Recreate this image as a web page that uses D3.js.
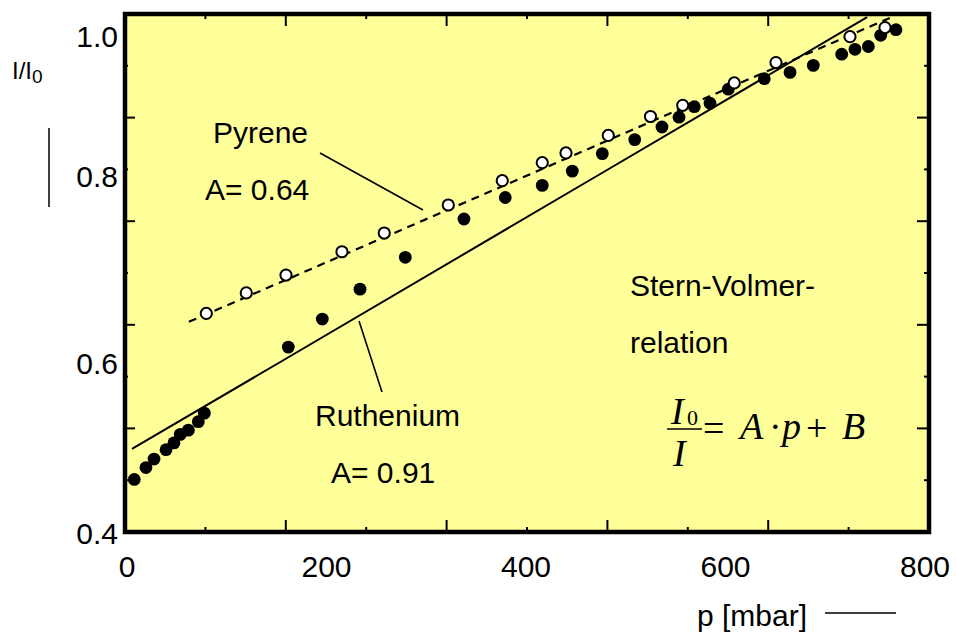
<!DOCTYPE html>
<html>
<head>
<meta charset="utf-8">
<script src="https://cdn.jsdelivr.net/npm/d3@7"></script>
<style>
  html, body { margin: 0; padding: 0; background: #ffffff; }
  svg { display: block; }
  text.sans { font-family: "Liberation Sans", Arial, Helvetica, sans-serif; fill: #000; }
  text.serif { font-family: "Liberation Serif", "Times New Roman", Times, serif; fill: #000; }
</style>
</head>
<body>
<svg id="chart" width="956" height="634"></svg>
<script>
// ---------- data ----------
const xTickValues = [0, 200, 400, 600, 800];
const xTickLabels = ["0", "200", "400", "600", "800"];
const yTickValues = [0.4, 0.6, 0.8, 1.0];
const yTickLabels = ["0.4", "0.6", "0.8", "1.0"];

// Ruthenium (filled circles)
const pressureRu = [7.3, 19.0, 27.1, 39.1, 47.1, 53.4, 61.5, 71.5, 77.5, 161.7, 195.8, 233.6, 279.0,
  337.8, 379.2, 416.3, 446.4, 476.5, 509.0, 536.3, 553.4, 568.7, 584.5, 602.8, 638.9, 664.7,
  688.0, 716.5, 729.8, 743.2, 755.6, 770.9];
const ruthenium = [0.463, 0.477, 0.487, 0.498, 0.506, 0.516, 0.521, 0.531, 0.541, 0.617, 0.647, 0.679, 0.713,
  0.754, 0.777, 0.790, 0.807, 0.832, 0.852, 0.870, 0.884, 0.899, 0.904, 0.924, 0.939, 0.948,
  0.958, 0.974, 0.981, 0.985, 1.001, 1.009];

// Pyrene (open circles)
const pressurePy = [79.5, 119.6, 159.4, 215.5, 257.9, 322.1, 376.2, 416.3, 440.1, 482.5, 524.8,
  557.1, 608.8, 650.6, 724.8, 759.9];
const pyrene = [0.653, 0.675, 0.694, 0.719, 0.739, 0.769, 0.795, 0.819, 0.833, 0.858, 0.885,
  0.901, 0.933, 0.962, 0.999, 1.012];

// fit lines
const fitRuP = [5, 152, 471, 742];
const fitRuV = [0.499, 0.6, 0.8, 1.027];
const fitPyP = [62, 400, 765];
const fitPyV = [0.644, 0.8, 1.026];

// ---------- layout ----------
const svg = d3.select("#chart");
const L = 125, R = 929, T = 14, B = 532;
const x = d3.scaleLinear().domain([0, 800]).range([127, 925]);
// the original figure's y labels are not evenly spaced
const y = d3.scaleLinear().domain([0.4, 0.6, 0.8, 1.0]).range([533, 363, 176, 36]);
const fx = d3.scaleLinear().domain([0, 10]).range([L, R]);
const fy = d3.scaleLinear().domain([0, 10]).range([B, T]);

// plot background
svg.append("rect").attr("x", L).attr("y", T).attr("width", R - L).attr("height", B - T)
  .attr("fill", "#ffff99");

// frame ticks
const idx = d3.range(1, 10);
const len = k => (k % 2 === 0 ? 12 : 5);
svg.append("g").selectAll("line").data(idx).join("line")
  .attr("x1", k => fx(k)).attr("x2", k => fx(k)).attr("y1", B).attr("y2", k => B - len(k))
  .attr("stroke", "#000").attr("stroke-width", 2);
svg.append("g").selectAll("line").data(idx).join("line")
  .attr("x1", k => fx(k)).attr("x2", k => fx(k)).attr("y1", T).attr("y2", k => T + len(k))
  .attr("stroke", "#000").attr("stroke-width", 2);
svg.append("g").selectAll("line").data(idx).join("line")
  .attr("y1", k => fy(k)).attr("y2", k => fy(k)).attr("x1", L).attr("x2", k => L + len(k) - 2)
  .attr("stroke", "#000").attr("stroke-width", 2);
svg.append("g").selectAll("line").data(idx).join("line")
  .attr("y1", k => fy(k)).attr("y2", k => fy(k)).attr("x1", R).attr("x2", k => R - len(k))
  .attr("stroke", "#000").attr("stroke-width", 2);

// fit lines
const line = d3.line().x(d => x(d[0])).y(d => y(d[1]));
svg.append("path").datum(d3.zip(fitRuP, fitRuV)).attr("d", line)
  .attr("fill", "none").attr("stroke", "#000").attr("stroke-width", 2);
svg.append("path").datum(d3.zip(fitPyP, fitPyV)).attr("d", line)
  .attr("fill", "none").attr("stroke", "#000").attr("stroke-width", 2.2)
  .attr("stroke-dasharray", "8,6");

// points
svg.append("g").selectAll("circle").data(d3.zip(pressureRu, ruthenium)).join("circle")
  .attr("cx", d => x(d[0])).attr("cy", d => y(d[1])).attr("r", 6.4).attr("fill", "#000");
svg.append("g").selectAll("circle").data(d3.zip(pressurePy, pyrene)).join("circle")
  .attr("cx", d => x(d[0])).attr("cy", d => y(d[1])).attr("r", 5.6)
  .attr("fill", "#fff").attr("stroke", "#000").attr("stroke-width", 2);

// frame border
svg.append("rect").attr("x", L).attr("y", T).attr("width", R - L).attr("height", B - T)
  .attr("fill", "none").attr("stroke", "#000").attr("stroke-width", 4.5);

// axis labels
svg.append("g").selectAll("text").data(xTickValues).join("text").attr("class", "sans")
  .attr("x", d => x(d)).attr("y", 577).attr("text-anchor", "middle")
  .style("font-size", "30px").text((d, i) => xTickLabels[i]);
svg.append("g").selectAll("text").data(yTickValues).join("text").attr("class", "sans")
  .attr("x", 118).attr("y", d => y(d) + 11).attr("text-anchor", "end")
  .style("font-size", "30px").text((d, i) => yTickLabels[i]);

// axis titles
const yt = svg.append("text").attr("class", "sans").attr("x", 12).attr("y", 79).style("font-size", "24px");
yt.append("tspan").text("I/I");
yt.append("tspan").attr("dy", 4).style("font-size", "19px").text("0");
svg.append("line").attr("x1", 49).attr("x2", 49).attr("y1", 128).attr("y2", 207)
  .attr("stroke", "#000").attr("stroke-width", 1.5);
svg.append("text").attr("class", "sans").attr("x", 697).attr("y", 626).style("font-size", "30px").text("p [mbar]");
svg.append("line").attr("x1", 825).attr("x2", 896).attr("y1", 613).attr("y2", 613)
  .attr("stroke", "#000").attr("stroke-width", 1.5);

// annotations
const notes = [
  { t: "Pyrene", x: 213, y: 143 },
  { t: "A= 0.64", x: 205, y: 200 },
  { t: "Ruthenium", x: 315, y: 426 },
  { t: "A= 0.91", x: 331, y: 483 },
  { t: "Stern-Volmer-", x: 630, y: 296 },
  { t: "relation", x: 630, y: 353 }
];
svg.append("g").selectAll("text").data(notes).join("text").attr("class", "sans")
  .attr("x", d => d.x).attr("y", d => d.y).style("font-size", "30px").text(d => d.t);
svg.append("line").attr("x1", 320).attr("y1", 153).attr("x2", 423).attr("y2", 210)
  .attr("stroke", "#000").attr("stroke-width", 1.6);
svg.append("line").attr("x1", 359).attr("y1", 321).attr("x2", 382).attr("y2", 392)
  .attr("stroke", "#000").attr("stroke-width", 1.6);

// formula  I0 / I = A · p + B
const glyphs = [
  { t: "I", x: 671, y: 424, s: 38, it: true },
  { t: "0", x: 687, y: 425, s: 22, it: false },
  { t: "I", x: 673, y: 466, s: 38, it: true },
  { t: "=", x: 703, y: 441, s: 38, it: false },
  { t: "A", x: 740, y: 439, s: 38, it: true },
  { t: "·", x: 769, y: 439, s: 38, it: false },
  { t: "p", x: 782, y: 439, s: 38, it: true },
  { t: "+", x: 806, y: 441, s: 38, it: false },
  { t: "B", x: 842, y: 439, s: 38, it: true }
];
svg.append("g").selectAll("text").data(glyphs).join("text").attr("class", "serif")
  .attr("x", d => d.x).attr("y", d => d.y)
  .style("font-size", d => d.s + "px").style("font-style", d => d.it ? "italic" : "normal")
  .text(d => d.t);
svg.append("line").attr("x1", 667).attr("x2", 702).attr("y1", 429).attr("y2", 429)
  .attr("stroke", "#000").attr("stroke-width", 1.6);
</script>
</body>
</html>
